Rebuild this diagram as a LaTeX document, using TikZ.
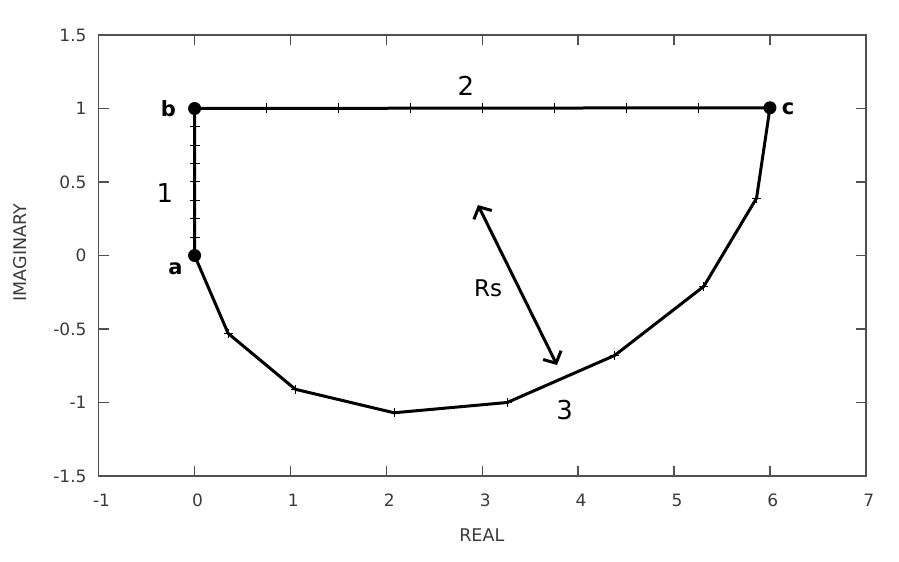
\documentclass[tikz,border=0pt]{standalone}
\usepackage{fontspec}
\setmainfont{DejaVu Sans}
\usetikzlibrary{arrows.meta}
\definecolor{axisgray}{HTML}{505050}
\definecolor{labgray}{HTML}{3A3A3A}
\tikzset{
  frameline/.style={draw=axisgray, line width=1.4pt},
  tickline/.style={draw=axisgray, line width=1.4pt},
  ticklab/.style={text=labgray, font=\fontsize{17}{19}\selectfont, inner sep=0pt},
  axislab/.style={text=labgray, font=\fontsize{17.5}{19}\selectfont, inner sep=0pt},
  dataline/.style={draw=black, line width=3pt, line join=round},
  markline/.style={draw=black, line width=1pt},
  ptdot/.style={circle, fill=black, inner sep=0pt, minimum size=13pt},
  ptlab/.style={font=\bfseries\fontsize{21}{23}\selectfont, inner sep=0pt},
  seglab/.style={font=\fontsize{26}{28}\selectfont, inner sep=0pt},
  rslab/.style={font=\fontsize{23}{25}\selectfont, inner sep=0pt},
  rsarrow/.style={draw=black, line width=3pt,
    {Straight Barb[length=9pt,width=20pt,line width=3pt]}-{Straight Barb[length=9pt,width=20pt,line width=3pt]}}
}
\begin{document}
\begin{tikzpicture}[x=95.9pt, y=147pt]
\useasboundingbox (-2.0292,-2.085) rectangle (7.3456,1.7381);
% frame
\draw[frameline] (-1,-1.5) rectangle (7,1.5);
% ticks x
\foreach \t in {0,...,6} {
  \draw[tickline] (\t,-1.5) -- ++(0,10pt);
  \draw[tickline] (\t,1.5) -- ++(0,-10pt);
}
\foreach \t in {-1,...,7} {
  \node[ticklab] (xl\t) at (\t+0.03,-1.665) {\t};
}
% ticks y
\foreach \t in {-1,-0.5,0,0.5,1} {
  \draw[tickline] (-1,\t) -- ++(10pt,0);
  \draw[tickline] (7,\t) -- ++(-10pt,0);
}
\foreach \t/\l/\n in {-1.5/-1.5/a,-1/-1/b,-0.5/-0.5/c,0/0/d,0.5/0.5/e,1/1/f,1.5/1.5/g} {
  \node[ticklab, anchor=east] (yl\n) at (-1.125,\t) {\l};
}
\node[axislab] (xlab) at (2.995,-1.9) {REAL};
\node[axislab, rotate=90] (ylab) at (-1.82,0.02) {IMAGINARY};
% data points
\coordinate (p1) at (5.86,0.39);
\coordinate (p2) at (5.31,-0.21);
\coordinate (p3) at (4.38,-0.68);
\coordinate (p4) at (3.26,-1.0);
\coordinate (p5) at (2.08,-1.07);
\coordinate (p6) at (1.05,-0.91);
\coordinate (p7) at (0.35,-0.53);
\node[ptdot] (a) at (0,0) {};
\node[ptdot] (b) at (0,1) {};
\node[ptdot] (c) at (6,1.005) {};
% lines
\draw[dataline] (a.center) -- (b.center) -- (c.center) -- (p1) -- (p2) -- (p3) -- (p4) -- (p5) -- (p6) -- (p7) -- (a.center);
% marks on curve 3
\foreach \p in {p1,p2,p3,p4,p5,p6,p7} {
  \draw[markline] (\p) ++(-4.5pt,0) -- ++(9pt,0);
  \draw[markline] (\p) ++(0,-4.5pt) -- ++(0,9pt);
}
% marks on segment 1
\foreach \k in {1,...,7} {
  \draw[markline] (0,\k/8) ++(-5pt,0) -- ++(10pt,0);
}
% marks on segment 2
\foreach \k in {1,...,7} {
  \draw[markline] (0.75*\k,1.002) ++(0,-5pt) -- ++(0,10pt);
}
% labels
\node[ptlab] (la) at (-0.2,-0.09) {a};
\node[ptlab] (lb) at (-0.272,1.0) {b};
\node[ptlab] (lc) at (6.19,1.0) {c};
\node[seglab] (s1) at (-0.309,0.425) {1};
\node[seglab] (s2) at (2.83,1.153) {2};
\node[seglab] (s3) at (3.86,-1.051) {3};
\node[rslab] (rs) at (3.06,-0.221) {Rs};
\coordinate (r1) at (2.955,0.343);
\coordinate (r2) at (3.779,-0.745);
\draw[rsarrow] (r1) -- (r2);
\end{tikzpicture}
\end{document}
